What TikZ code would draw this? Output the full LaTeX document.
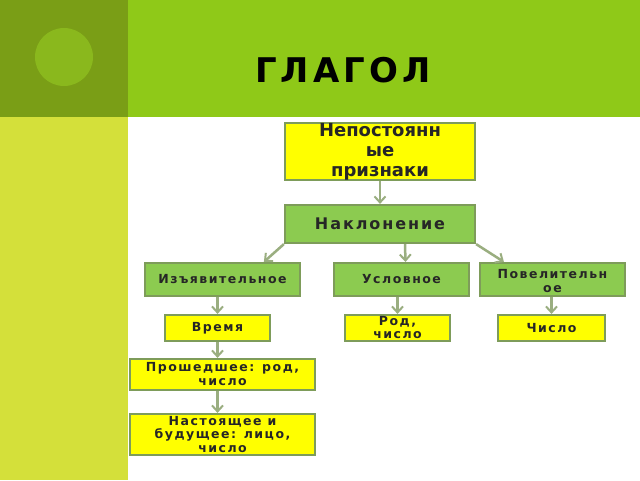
\documentclass[tikz,border=0pt]{standalone}
\usepackage{fontspec}
\setmainfont{DejaVu Sans}
\newfontfamily\spfont[LetterSpace=12]{DejaVu Sans}
\usetikzlibrary{arrows.meta}
\definecolor{band}{HTML}{8FC918}
\definecolor{dark}{HTML}{7A9E16}
\definecolor{side}{HTML}{D4E03A}
\definecolor{circ}{HTML}{8AB81D}
\definecolor{bord}{HTML}{7E9C5A}
\definecolor{gbox}{HTML}{8CCB50}
\definecolor{ybox}{HTML}{FFFF00}
\definecolor{arr}{HTML}{9AAE80}
\begin{document}
\begin{tikzpicture}[x=1pt,y=-1pt,
 box/.style={draw=bord,line width=2.2pt,inner sep=0pt,font=\spfont\bfseries\fontsize{12.5}{13}\selectfont,align=center,text=black!85},
 yb/.style={box,fill=ybox},
 gb/.style={box,fill=gbox},
 ar/.style={draw=arr,line width=2.5pt,-{Straight Barb[length=6pt,width=11pt,line width=2pt]}}]
\useasboundingbox (0,0) rectangle (640,480);
\fill[white] (0,0) rectangle (640,480);
\fill[band] (128,0) rectangle (640,117);
\fill[dark] (0,0) rectangle (128,117);
\fill[side] (0,117) rectangle (128,480);
\fill[circ] (64,57) ellipse (29 and 29);
\node[font=\spfont\bfseries\fontsize{34}{34}\selectfont] (t) at (343,70) {ГЛАГОЛ};
\node[yb,minimum width=190pt,minimum height=57pt,font=\bfseries\fontsize{18}{20}\selectfont] (np) at (380,151.5) {Непостоянн\\ые\\признаки};
\node[gb,minimum width=190pt,minimum height=38pt,font=\spfont\bfseries\fontsize{16}{16}\selectfont] (nak) at (380,224) {Наклонение};
\node[gb,minimum width=155pt,minimum height=33pt] (iz) at (222.5,279.5) {Изъявительное};
\node[gb,minimum width=135pt,minimum height=33pt] (us) at (401.5,279.5) {Условное};
\node[gb,minimum width=145pt,minimum height=33pt] (pov) at (552.5,279.5) {};
\node[font=\spfont\bfseries\fontsize{12.5}{14}\selectfont,align=center,text=black!85] (povt) at (552.5,281) {Повелительн\\ое};
\node[yb,minimum width=105pt,minimum height=26pt] (vr) at (217.5,328) {Время};
\node[yb,minimum width=105pt,minimum height=26pt,font=\spfont\bfseries\fontsize{12.5}{13}\selectfont] (rod) at (397.5,328) {Род,\\число};
\node[yb,minimum width=107pt,minimum height=26pt] (ch) at (551.5,328) {Число};
\node[yb,minimum width=185pt,minimum height=31pt,font=\spfont\bfseries\fontsize{12.5}{14}\selectfont] (pr) at (222.5,374.5) {Прошедшее: род,\\число};
\node[yb,minimum width=185pt,minimum height=41pt,font=\spfont\bfseries\fontsize{12.5}{13.5}\selectfont] (nas) at (222.5,434.5) {Настоящее и\\будущее: лицо,\\число};
\draw[ar] (np.south) -- (nak.north);
\draw[ar] (nak.south west) -- ([xshift=120pt]iz.north west);
\draw[ar] (nak.south) ++(25,0) -- ([xshift=4pt]us.north);
\draw[ar] (nak.south east) -- ([xshift=25pt]pov.north west);
\draw[ar] (iz.south -| vr.north) -- (vr.north);
\draw[ar] (us.south -| rod.north) -- (rod.north);
\draw[ar] (pov.south -| ch.north) -- (ch.north);
\draw[ar] (vr.south) -- (pr.north -| vr.south);
\draw[ar] (pr.south -| vr.south) -- (nas.north -| vr.south);
\end{tikzpicture}
\end{document}
